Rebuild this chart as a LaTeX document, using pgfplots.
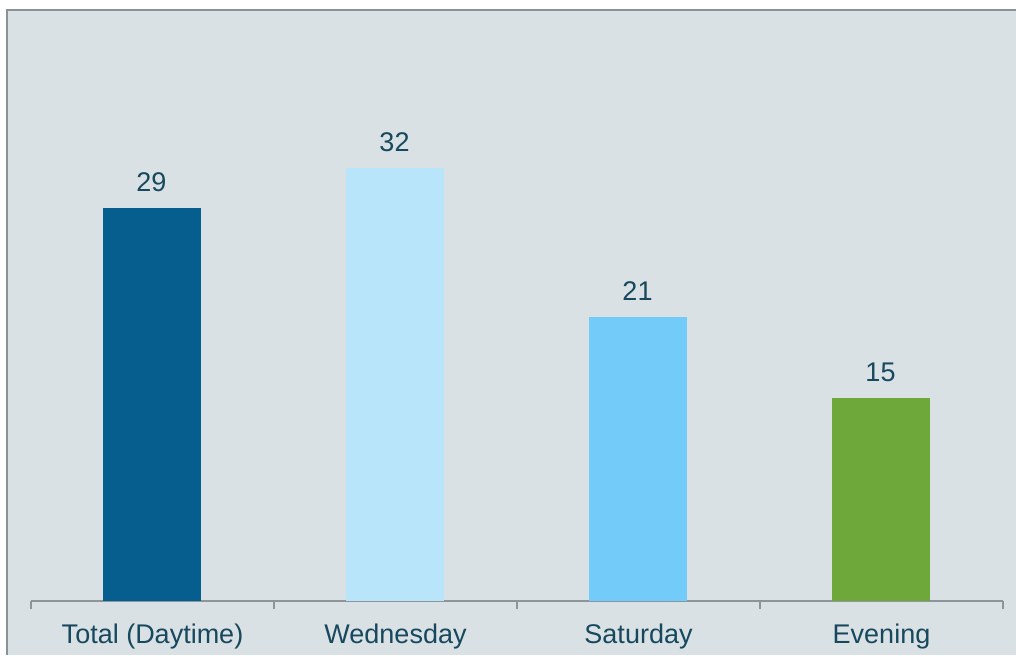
\documentclass[border=0pt]{standalone}
\usepackage{fontspec}
\setmainfont{Liberation Sans}
\usepackage{pgfplots}
\pgfplotsset{compat=1.18}
\usetikzlibrary{backgrounds}

\definecolor{panel}{HTML}{D9E1E4}
\definecolor{frame}{HTML}{8A9297}
\definecolor{axline}{HTML}{8C9599}
\definecolor{txt}{HTML}{17485E}
\definecolor{cTotal}{HTML}{065E8E}
\definecolor{cWed}{HTML}{B8E5FA}
\definecolor{cSat}{HTML}{72CBF9}
\definecolor{cEve}{HTML}{6EA73A}

\begin{document}
\begin{tikzpicture}
  \begin{axis}[
      name=ax, at={(0,0)}, anchor=south west,
      scale only axis, width=486pt, height=270.8pt,
      xmin=-0.5, xmax=3.5, ymin=0, ymax=40,
      ybar, bar width=49pt, bar shift=-0.5pt,
      axis y line=none, axis x line=bottom,
      x axis line style={-, draw=axline, line width=1pt},
      xtick={0,1,2,3},
      xticklabels={Total (Daytime), Wednesday, Saturday, Evening},
      major tick length=0pt,
      minor xtick={-0.5,0.5,1.5,2.5,3.5},
      minor tick length=4pt,
      tick align=outside,
      minor tick style={draw=axline, line width=0.6pt},
      xticklabel style={font=\fontsize{13.5}{16}\selectfont, text=txt, anchor=base, yshift=-21pt},
      /pgf/number format/assume math mode=true,
      nodes near coords,
      every node near coord/.append style={font=\fontsize{13.5}{16}\selectfont, text=txt, anchor=south, inner sep=0pt, yshift=8pt},
      clip=false,
    ]
    \addplot[fill=cTotal, draw=none] coordinates {(0,29)};
    \addplot[fill=cWed, draw=none] coordinates {(1,32)};
    \addplot[fill=cSat, draw=none] coordinates {(2,21)};
    \addplot[fill=cEve, draw=none] coordinates {(3,15)};
  \end{axis}
  \begin{scope}[on background layer]
    \useasboundingbox (-15.5pt,-27pt) rectangle (492.5pt,300.5pt);
    \fill[panel] (-12pt,-27pt) rectangle (492.5pt,295.5pt);
    \draw[frame, line width=1pt] (-12pt,-27pt) -- (-12pt,295.5pt) -- (492.5pt,295.5pt);
  \end{scope}
\end{tikzpicture}
\end{document}
